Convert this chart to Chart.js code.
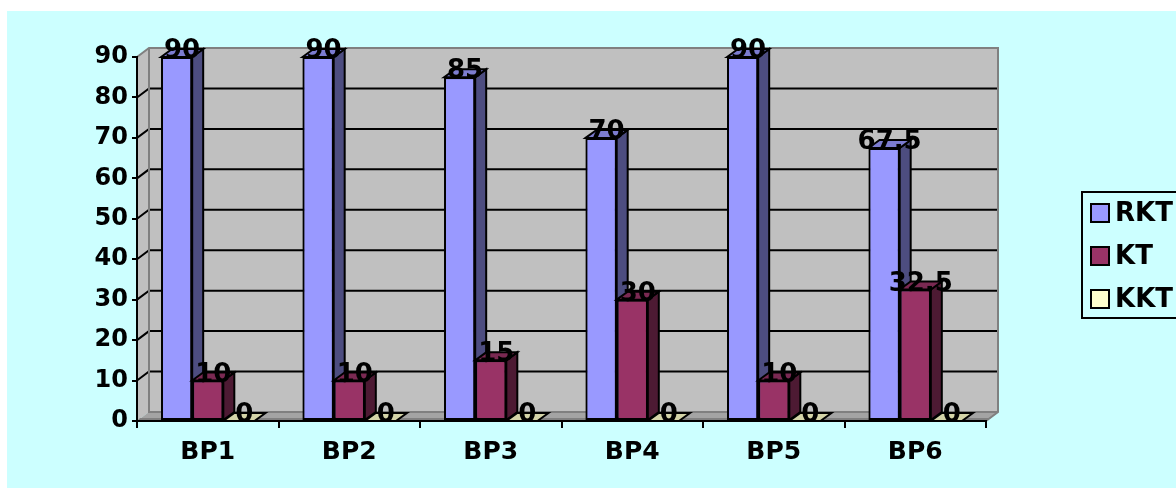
<!DOCTYPE html>
<html>
<head>
<meta charset="utf-8">
<script src="https://cdn.jsdelivr.net/npm/chart.js@4.4.1/dist/chart.umd.min.js"></script>
<style>
  html, body { margin: 0; padding: 0; background: #ffffff; }
  canvas { display: block; }
</style>
</head>
<body>
<canvas id="chart" width="1176" height="488"></canvas>
<script>
// Categories and series values
const categories = ['BP1', 'BP2', 'BP3', 'BP4', 'BP5', 'BP6'];
const rktValues = [90, 90, 85, 70, 90, 67.5];
const ktValues = [10, 10, 15, 30, 10, 32.5];
const kktValues = [0, 0, 0, 0, 0, 0];
const seriesNames = ['RKT', 'KT', 'KKT'];

// Face colours for each series: front, side, top
const faceColors = [
  { front: '#9999FF', side: '#4D4D80', top: '#7C7CD0' },
  { front: '#993366', side: '#4D1A33', top: '#7A2952' },
  { front: '#FFFFCC', side: '#80806A', top: '#D4D4A8' }
];

const FONT = "'DejaVu Sans', 'Liberation Sans', sans-serif";
const BG = '#CCFFFF';
const WALL_DX = 12, WALL_DY = -9;   // depth of walls and floor
const BAR_DX = 11, BAR_DY = -8;     // depth of each bar

function poly(ctx, pts) {
  ctx.beginPath();
  ctx.moveTo(pts[0][0], pts[0][1]);
  for (let i = 1; i < pts.length; i++) ctx.lineTo(pts[i][0], pts[i][1]);
  ctx.closePath();
}

const depthPlugin = {
  id: 'depth',
  beforeDraw(chart) {
    const ctx = chart.ctx;
    const { left, right, top, bottom } = chart.chartArea;
    const yScale = chart.scales.y;
    ctx.save();
    ctx.fillStyle = '#ffffff';
    ctx.fillRect(0, 0, chart.width, chart.height);
    ctx.fillStyle = BG;
    ctx.fillRect(7, 11, chart.width - 7, chart.height - 11);

    // side wall
    ctx.fillStyle = '#C0C0C0';
    poly(ctx, [[left, top], [left + WALL_DX, top + WALL_DY], [left + WALL_DX, bottom + WALL_DY], [left, bottom]]);
    ctx.fill();
    // back wall
    ctx.fillRect(left + WALL_DX, top + WALL_DY, right - left, bottom - top);
    // floor
    ctx.fillStyle = '#A4A4A4';
    poly(ctx, [[left, bottom], [left + WALL_DX, bottom + WALL_DY], [right + WALL_DX, bottom + WALL_DY], [right, bottom]]);
    ctx.fill();
    ctx.fillStyle = '#808080';
    poly(ctx, [[left, bottom], [left + 3, bottom - 3], [right + 3, bottom - 3], [right, bottom]]);
    ctx.fill();

    // gridlines on side wall and back wall
    ctx.strokeStyle = '#000000';
    ctx.lineWidth = 2;
    yScale.ticks.forEach(t => {
      if (t.value <= yScale.min || t.value >= yScale.max) return;
      const py = yScale.getPixelForValue(t.value);
      ctx.beginPath();
      ctx.moveTo(left, py);
      ctx.lineTo(left + WALL_DX, py + WALL_DY);
      ctx.lineTo(right + WALL_DX, py + WALL_DY);
      ctx.stroke();
    });

    // wall edges
    ctx.strokeStyle = '#808080';
    ctx.lineWidth = 2;
    ctx.beginPath();
    ctx.moveTo(left, top);
    ctx.lineTo(left + WALL_DX, top + WALL_DY);
    ctx.lineTo(right + WALL_DX, top + WALL_DY);
    ctx.lineTo(right + WALL_DX, bottom + WALL_DY);
    ctx.lineTo(right, bottom);
    ctx.moveTo(left + WALL_DX, top + WALL_DY);
    ctx.lineTo(left + WALL_DX, bottom + WALL_DY);
    ctx.lineTo(right + WALL_DX, bottom + WALL_DY);
    ctx.stroke();
    ctx.restore();
  },
  afterDatasetsDraw(chart) {
    const ctx = chart.ctx;
    ctx.save();
    ctx.lineJoin = 'miter';
    chart.data.datasets.forEach((ds, i) => {
      const meta = chart.getDatasetMeta(i);
      const col = faceColors[i];
      meta.data.forEach((el, j) => {
        const { x, y, base, width } = el.getProps(['x', 'y', 'base', 'width'], true);
        const x0 = x - width / 2, x1 = x + width / 2;
        ctx.strokeStyle = '#000000';
        ctx.lineWidth = 2;
        if (base - y > 0.5) {
          ctx.fillStyle = col.side;
          poly(ctx, [[x1, y], [x1 + BAR_DX, y + BAR_DY], [x1 + BAR_DX, base + BAR_DY], [x1, base]]);
          ctx.fill();
          ctx.stroke();
        }
        ctx.fillStyle = col.top;
        poly(ctx, [[x0, y], [x0 + BAR_DX, y + BAR_DY], [x1 + BAR_DX, y + BAR_DY], [x1, y]]);
        ctx.fill();
        ctx.stroke();
        if (base - y > 0.5) el.draw(ctx);
      });
    });

    // value labels
    ctx.fillStyle = '#000000';
    ctx.font = 'bold 26px ' + FONT;
    ctx.textAlign = 'center';
    ctx.textBaseline = 'alphabetic';
    chart.data.datasets.forEach((ds, i) => {
      const meta = chart.getDatasetMeta(i);
      meta.data.forEach((el, j) => {
        const { x, y } = el.getProps(['x', 'y'], true);
        ctx.fillText(String(ds.data[j]), x + BAR_DX / 2, y + 1);
      });
    });
    ctx.restore();
  },
  afterDraw(chart) {
    const ctx = chart.ctx;
    ctx.save();
    // legend box
    ctx.strokeStyle = '#000000';
    ctx.lineWidth = 2;
    ctx.strokeRect(1082, 192, 140, 126);
    ctx.font = 'bold 26px ' + FONT;
    ctx.textAlign = 'left';
    ctx.textBaseline = 'middle';
    chart.data.datasets.forEach((ds, i) => {
      const cy = 213 + i * 43;
      ctx.fillStyle = ds.backgroundColor;
      ctx.fillRect(1091, cy - 9, 18, 18);
      ctx.strokeRect(1091, cy - 9, 18, 18);
      ctx.fillStyle = '#000000';
      ctx.fillText(ds.label, 1115, cy + 1);
    });
    ctx.restore();
  }
};

const seriesData = [rktValues, ktValues, kktValues];

new Chart(document.getElementById('chart'), {
  type: 'bar',
  data: {
    labels: categories,
    datasets: seriesNames.map((name, i) => ({
      label: name,
      data: seriesData[i],
      backgroundColor: faceColors[i].front,
      borderColor: '#000000',
      borderWidth: 2,
      borderSkipped: false,
      barPercentage: 1.0,
      categoryPercentage: 0.66
    }))
  },
  options: {
    responsive: false,
    animation: false,
    devicePixelRatio: 1,
    layout: { padding: { left: 0, top: 57, right: 190, bottom: 0 } },
    plugins: { legend: { display: false }, tooltip: { enabled: false } },
    scales: {
      x: {
        offset: true,
        grid: { display: true, drawOnChartArea: false, drawTicks: true, tickLength: 7, color: '#000000', lineWidth: 2, offset: true },
        border: { display: true, color: '#000000', width: 2 },
        ticks: { color: '#000000', font: { family: FONT, size: 25, weight: 'bold' }, padding: 9, maxRotation: 0 },
        afterFit: s => { s.height = 67; }
      },
      y: {
        min: 0,
        max: 90,
        grid: { display: true, drawOnChartArea: false, drawTicks: true, tickLength: 5, color: '#000000', lineWidth: 2 },
        border: { display: true, color: '#000000', width: 2 },
        ticks: { stepSize: 10, color: '#000000', font: { family: FONT, size: 24, weight: 'bold' }, padding: 4 },
        afterFit: s => { s.width = 137; }
      }
    }
  },
  plugins: [depthPlugin]
});
</script>
</body>
</html>
